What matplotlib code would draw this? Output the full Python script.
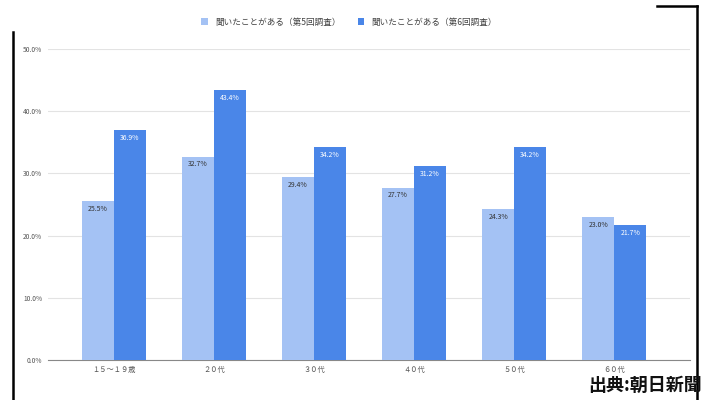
import numpy as np
import matplotlib
matplotlib.use('Agg')
from matplotlib import pyplot as plt
from matplotlib.lines import Line2D

plt.rcParams['font.family'] = ['Noto Sans CJK JP', 'DejaVu Sans']

# データ
categories = ['１５～１９歳', '２０代', '３０代', '４０代', '５０代', '６０代']
survey5 = [25.5, 32.7, 29.4, 27.7, 24.3, 23.0]
survey6 = [36.9, 43.4, 34.2, 31.2, 34.2, 21.7]
series_names = ['聞いたことがある（第5回調査）', '聞いたことがある（第6回調査）']
yticks = [0, 10, 20, 30, 40, 50]

light = '#a4c2f4'
dark = '#4a86e8'

fig = plt.figure(figsize=(7.05, 4.0), dpi=100)
ax = fig.add_axes([0.068, 0.1, 0.911, 0.7775])

x = np.arange(len(categories))
w = 0.32
b1 = ax.bar(x - w / 2, survey5, w, color=light, label=series_names[0], zorder=3)
b2 = ax.bar(x + w / 2, survey6, w, color=dark, label=series_names[1], zorder=3)

# 値ラベル（バーの内側上部）
for rect, v in zip(b1, survey5):
    ax.text(rect.get_x() + rect.get_width() / 2, v - 0.6, '%.1f%%' % v,
            ha='center', va='top', fontsize=5, color='#333333', zorder=4)
for rect, v in zip(b2, survey6):
    ax.text(rect.get_x() + rect.get_width() / 2, v - 0.6, '%.1f%%' % v,
            ha='center', va='top', fontsize=5, color='white', zorder=4)

ax.set_xlim(-0.66, len(categories) - 1 + 0.76)
ax.set_ylim(0, 50)
ax.set_yticks(yticks)
ax.set_yticklabels(['%.1f%%' % t for t in yticks], fontsize=4.8, color='#555555')
ax.set_xticks(x)
ax.set_xticklabels(categories, fontsize=5.2, color='#555555')
ax.tick_params(length=0, pad=4)
ax.grid(axis='y', color='#e3e3e3', linewidth=0.8, zorder=0)
for s in ['top', 'right', 'left']:
    ax.spines[s].set_visible(False)
ax.spines['bottom'].set_color('#888888')
ax.spines['bottom'].set_linewidth(0.8)

fig.legend(handles=[b1, b2], loc='center', bbox_to_anchor=(0.495, 0.945), ncol=2,
           frameon=False, fontsize=6.2, handlelength=0.8, handleheight=0.8,
           columnspacing=2.0, handletextpad=0.8, labelcolor='#444444')

# 出典
fig.text(0.995, 0.037, '出典:朝日新聞', ha='right', va='center', fontsize=13,
         fontweight='bold', color='#111111')

# スクリーンショットの枠線
fig.add_artist(Line2D([13 / 705, 13 / 705], [0, 1 - 32 / 400], color='black', lw=1.8))
fig.add_artist(Line2D([657 / 705, 697 / 705], [1 - 6 / 400, 1 - 6 / 400], color='black', lw=1.8))
fig.add_artist(Line2D([697 / 705, 697 / 705], [1 - 6 / 400, 0], color='black', lw=1.8))

fig.savefig('out.png', dpi=100)
